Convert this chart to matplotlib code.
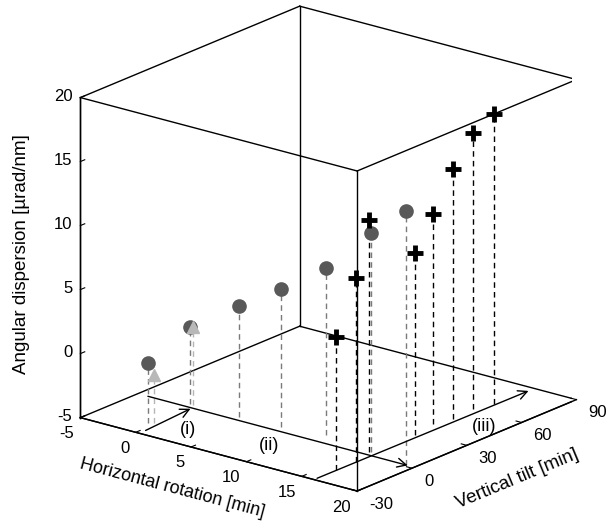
import numpy as np
import matplotlib
matplotlib.use('Agg')
import matplotlib.pyplot as plt
from matplotlib.patches import FancyArrowPatch
from matplotlib.transforms import offset_copy
from mpl_toolkits.mplot3d import proj3d

plt.rcParams['font.family'] = ['Liberation Sans', 'DejaVu Sans']
plt.rcParams['axes.unicode_minus'] = False

# ---------------- data ----------------
circ_h = [-0.5, -0.7, 3.7, 7.3, 10.9, 15.6, 19.3]
circ_v = [-20.0, 4.1, 4.3, 5.2, 7.9, 4.1, 1.0]
circ_z = [-0.3, 1.0, 3.7, 5.8, 8.1, 12.1, 14.9]

tri_h = [-0.2, -0.4]
tri_v = [-19.0, 3.8]
tri_z = [-1.2, 1.1]

cross_h = [16.1, 16.1, 15.5, 15.8, 15.3, 15.7, 15.5, 16.0]
cross_v = [-17.9, -7.1, 4.0, 27.1, 40.2, 48.5, 60.8, 69.2]
cross_z = [5.4, 9.4, 13.1, 9.2, 11.35, 14.5, 16.5, 17.66]

h_ticks = [-5, 0, 5, 10, 15, 20]
v_ticks = [-30, 0, 30, 60, 90]
z_ticks = [-5, 0, 5, 10, 15, 20]

arrow_labels = ['(i)', '(ii)', '(iii)']
arrow_start_h = [0.3, -4.1, 16.1]
arrow_start_v = [-26.4, 1.5, -28.3]
arrow_end_h = [-0.1, 19.4, 16.2]
arrow_end_v = [0.6, 1.3, 86.8]
label_h = [2.5, 9.1, 18.5]
label_v = [-16.8, -12.2, 48.3]

xlabel = 'Horizontal rotation [min]'
ylabel = 'Vertical tilt [min]'
zlabel = 'Angular dispersion [\u00b5rad/nm]'


class Arrow3D(FancyArrowPatch):
    def __init__(self, xs, ys, zs, *args, **kwargs):
        super().__init__((0, 0), (0, 0), *args, **kwargs)
        self._verts3d = xs, ys, zs

    def do_3d_projection(self, renderer=None):
        xs3d, ys3d, zs3d = self._verts3d
        xs, ys, zs = proj3d.proj_transform(xs3d, ys3d, zs3d, self.axes.M)
        self.set_positions((xs[0], ys[0]), (xs[1], ys[1]))
        return np.min(zs)


W, H = 608, 524
fig = plt.figure(figsize=(W / 100, H / 100), dpi=100)
side = 500.0
left = 328.4 - side * 0.095 / 0.185
bottom = (H - 248.6) - side * 0.095 / 0.185
ax = fig.add_axes([left / W, bottom / H, side / W, side / H],
                  projection='3d', proj_type='ortho')
ax.view_init(elev=19.42, azim=-51.42)
ax.set_box_aspect((354.0, 351.6, 339.3), zoom=1.1717)

xlim = (h_ticks[0], h_ticks[-1])
ylim = (v_ticks[0], v_ticks[-1])
zlim = (z_ticks[0], z_ticks[-1])
ax.set_xlim(*xlim)
ax.set_ylim(*ylim)
ax.set_zlim(*zlim)
ax.set_xticks(h_ticks)
ax.set_yticks(v_ticks)
ax.set_zticks(z_ticks)
ax.zaxis.set_ticks_position('lower')

ax.grid(False)
for axis in (ax.xaxis, ax.yaxis, ax.zaxis):
    axis.set_pane_color((1, 1, 1, 0))
    axis.pane.set_edgecolor((1, 1, 1, 0))
    axis.line.set_linewidth(1.0)
    axis.line.set_color('black')
    axis._axinfo['tick']['inward_factor'] = 0.0
    axis._axinfo['tick']['outward_factor'] = 0.25
    axis._axinfo['tick']['linewidth'] = {True: 0.8, False: 0.5}
    # native tick labels / axis labels are replaced by the texts placed below
    for tk in axis.get_major_ticks():
        tk.label1.set_visible(False)
        tk.label2.set_visible(False)
    axis.label.set_visible(False)
    axis.offsetText.set_visible(False)
ax.tick_params(axis='both', colors='black')

TICK_FS = 12
LAB_FS = 13.5

M = ax.get_proj()


def proj(x, y, z):
    px, py, _ = proj3d.proj_transform(np.atleast_1d(x), np.atleast_1d(y),
                                      np.atleast_1d(z), M)
    return float(px[0]), float(py[0])


def place(x, y, z, s, dx, dy, direction=None, **kw):
    px, py = proj(x, y, z)
    rot = 0.0
    if direction is not None:
        qx, qy = proj(x + direction[0], y + direction[1], z + direction[2])
        rot = np.degrees(np.arctan2(qy - py, qx - px))
    tr = offset_copy(ax.transData, fig=fig, x=dx, y=dy, units='dots')
    return ax.text2D(px, py, s, transform=tr, rotation=rot, **kw)


# tick labels
for t in h_ticks:
    place(t, ylim[0], zlim[0], str(t), -6, -16, ha='right', va='center',
          fontsize=TICK_FS)
for t in v_ticks:
    place(xlim[1], t, zlim[0], str(t), 12, -13, ha='left', va='center',
          fontsize=TICK_FS)
for t in z_ticks:
    place(xlim[0], ylim[0], t, str(t), -8, 1.5, ha='right', va='center',
          fontsize=TICK_FS)

# axis labels
place(np.mean(xlim), ylim[0], zlim[0], xlabel, -47, -34, direction=(1, 0, 0),
      ha='center', va='center', fontsize=13)
place(xlim[1], np.mean(ylim), zlim[0], ylabel, 50, -34, direction=(0, 1, 0),
      ha='center', va='center', fontsize=LAB_FS)
place(xlim[0], ylim[0], np.mean(zlim), zlabel, -59, 3.3, direction=(0, 0, 1),
      ha='center', va='center', fontsize=LAB_FS)

# box edges
for yy in ylim:
    for zz in zlim:
        ax.plot(xlim, [yy, yy], [zz, zz], color='black', lw=1.0)
for xx in xlim:
    for zz in zlim:
        ax.plot([xx, xx], ylim, [zz, zz], color='black', lw=1.0)
for xx in xlim:
    for yy in ylim:
        ax.plot([xx, xx], [yy, yy], zlim, color='black', lw=1.0)

zf = zlim[0]
# stems
for h, v, z in zip(circ_h, circ_v, circ_z):
    ax.plot([h, h], [v, v], [zf, z], color='#7a7a7a', lw=1.0, ls=(0, (4, 3)))
for h, v, z in zip(tri_h, tri_v, tri_z):
    ax.plot([h, h], [v, v], [zf, z], color='#b5b5b5', lw=1.0, ls=(0, (4, 3)))
for h, v, z in zip(cross_h, cross_v, cross_z):
    ax.plot([h, h], [v, v], [zf, z], color='black', lw=1.0, ls=(0, (4, 3)))

# markers
ax.plot(circ_h, circ_v, circ_z, ls='none', marker='o', ms=9.5,
        mfc='#595959', mec='#595959')
ax.plot(tri_h, tri_v, tri_z, ls='none', marker='^', ms=8,
        mfc='#b8b8b8', mec='#b8b8b8')
ax.plot(cross_h, cross_v, cross_z, ls='none', marker='+', ms=11,
        mew=3.5, color='black')

# floor arrows and labels
for sh, sv, eh, ev in zip(arrow_start_h, arrow_start_v, arrow_end_h, arrow_end_v):
    arr = Arrow3D([sh, eh], [sv, ev], [zf, zf], arrowstyle='->',
                  mutation_scale=16, lw=1.0, color='black', shrinkA=0, shrinkB=0)
    ax.add_artist(arr)
for lab, lh, lv in zip(arrow_labels, label_h, label_v):
    place(lh, lv, zf, lab, 0, 0, ha='center', va='center', fontsize=13)

fig.savefig('out.png', dpi=100)
